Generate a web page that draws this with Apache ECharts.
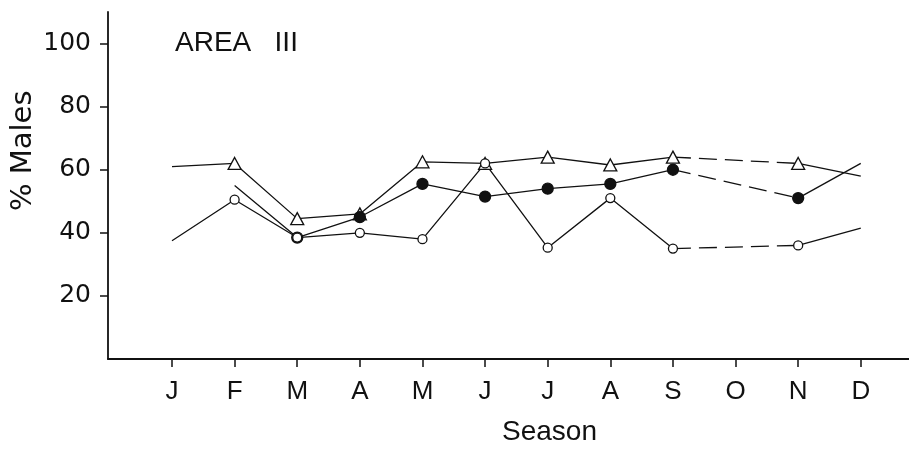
<!DOCTYPE html>
<html>
<head>
<meta charset="utf-8">
<script src="https://cdn.jsdelivr.net/npm/echarts@6/dist/echarts.min.js"></script>
<style>
  html, body { margin: 0; padding: 0; background: #fff; }
  #chart { width: 909px; height: 453px; }
</style>
</head>
<body>
<div id="chart"></div>
<script>
// Month initials along the season axis
const months = ['J', 'F', 'M', 'A', 'M', 'J', 'J', 'A', 'S', 'O', 'N', 'D'];
// Y-axis tick labels
const yTicks = [20, 40, 60, 80, 100];
// Percent males per month (null = no sample in that month)
const triangleSeries = [61, 62, 44.5, 46, 62.5, 62, 64, 61.5, 64, null, 62, 58];
const filledSeries = [null, 55, 38.5, 45, 55.5, 51.5, 54, 55.5, 60, null, 51, 62];
const openSeries = [37.5, 50.5, 38.5, 40, 38, 62, 35.3, 51, 35, null, 36, 41.5];

const INK = '#111';
const monthIdx = months.map((_, i) => i);

// Split a monthly series into solid runs and dashed bridges across gaps.
// The very first and last points of a series are line ends without a marker.
function buildSeries(values, symbol, size, fill) {
  const present = values.map((v, i) => (v == null ? -1 : i)).filter(i => i >= 0);
  const first = present[0], last = present[present.length - 1];
  const point = (i, marked) => ({
    value: [i, values[i]],
    symbol: marked && i !== first && i !== last ? symbol : 'none'
  });
  const runs = [];
  let cur = [];
  present.forEach((i, k) => {
    if (k > 0 && i !== present[k - 1] + 1) { runs.push(cur); cur = []; }
    cur.push(i);
  });
  runs.push(cur);
  const out = [];
  const base = {
    type: 'line',
    symbolSize: size,
    itemStyle: { color: fill, borderColor: INK, borderWidth: 1.3 },
    emphasis: { disabled: true },
    silent: true,
    animation: false
  };
  runs.forEach((run, r) => {
    if (r > 0) {
      const a = runs[r - 1][runs[r - 1].length - 1], b = run[0];
      out.push(Object.assign({}, base, {
        z: 2,
        showSymbol: false,
        lineStyle: { color: INK, width: 1.3, type: [18, 8] },
        data: [point(a, false), point(b, false)]
      }));
    }
    out.push(Object.assign({}, base, {
      z: 3,
      lineStyle: { color: INK, width: 1.3 },
      data: run.map(i => point(i, true))
    }));
  });
  return out;
}

const series = [
  ...buildSeries(triangleSeries, 'triangle', [13, 12], '#fff'),
  ...buildSeries(filledSeries, 'circle', 11, INK),
  ...buildSeries(openSeries, 'circle', 9, '#fff')
];

const chart = echarts.init(document.getElementById('chart'), null, { renderer: 'canvas' });
chart.setOption({
  backgroundColor: '#fff',
  animation: false,
  grid: { left: 108, right: 0, top: 12, bottom: 94, containLabel: false },
  xAxis: {
    type: 'value',
    min: -1.022,
    max: 11.77,
    splitLine: { show: false },
    axisLine: { show: true, onZero: false, lineStyle: { color: INK, width: 1.8 } },
    axisTick: { show: true, customValues: monthIdx, length: 8, lineStyle: { color: INK, width: 1.5 } },
    axisLabel: {
      customValues: monthIdx,
      formatter: v => months[Math.round(v)] || '',
      margin: 20,
      color: INK,
      fontFamily: 'Liberation Sans, Arial, sans-serif',
      fontSize: 26
    }
  },
  yAxis: {
    type: 'value',
    min: 0,
    max: 110,
    splitLine: { show: false },
    axisLine: { show: true, onZero: false, lineStyle: { color: INK, width: 1.8 } },
    axisTick: { show: true, customValues: yTicks, length: 8, lineStyle: { color: INK, width: 1.5 } },
    axisLabel: {
      customValues: yTicks,
      margin: 17,
      color: INK,
      fontFamily: 'DejaVu Sans, sans-serif',
      fontSize: 25
    }
  },
  graphic: [
    {
      type: 'text', left: 175, top: 29,
      style: { text: 'AREA   III', fill: INK, font: '28px "Liberation Sans", Arial, sans-serif' }
    },
    {
      type: 'text', left: 502, top: 418,
      style: { text: 'Season', fill: INK, font: '28px "Liberation Sans", Arial, sans-serif' }
    },
    {
      type: 'text', x: 9, y: 211, rotation: Math.PI / 2,
      style: { text: '% Males', fill: INK, font: '29px "DejaVu Sans", sans-serif', textAlign: 'left', textVerticalAlign: 'top' }
    }
  ],
  series: series
});
</script>
</body>
</html>
